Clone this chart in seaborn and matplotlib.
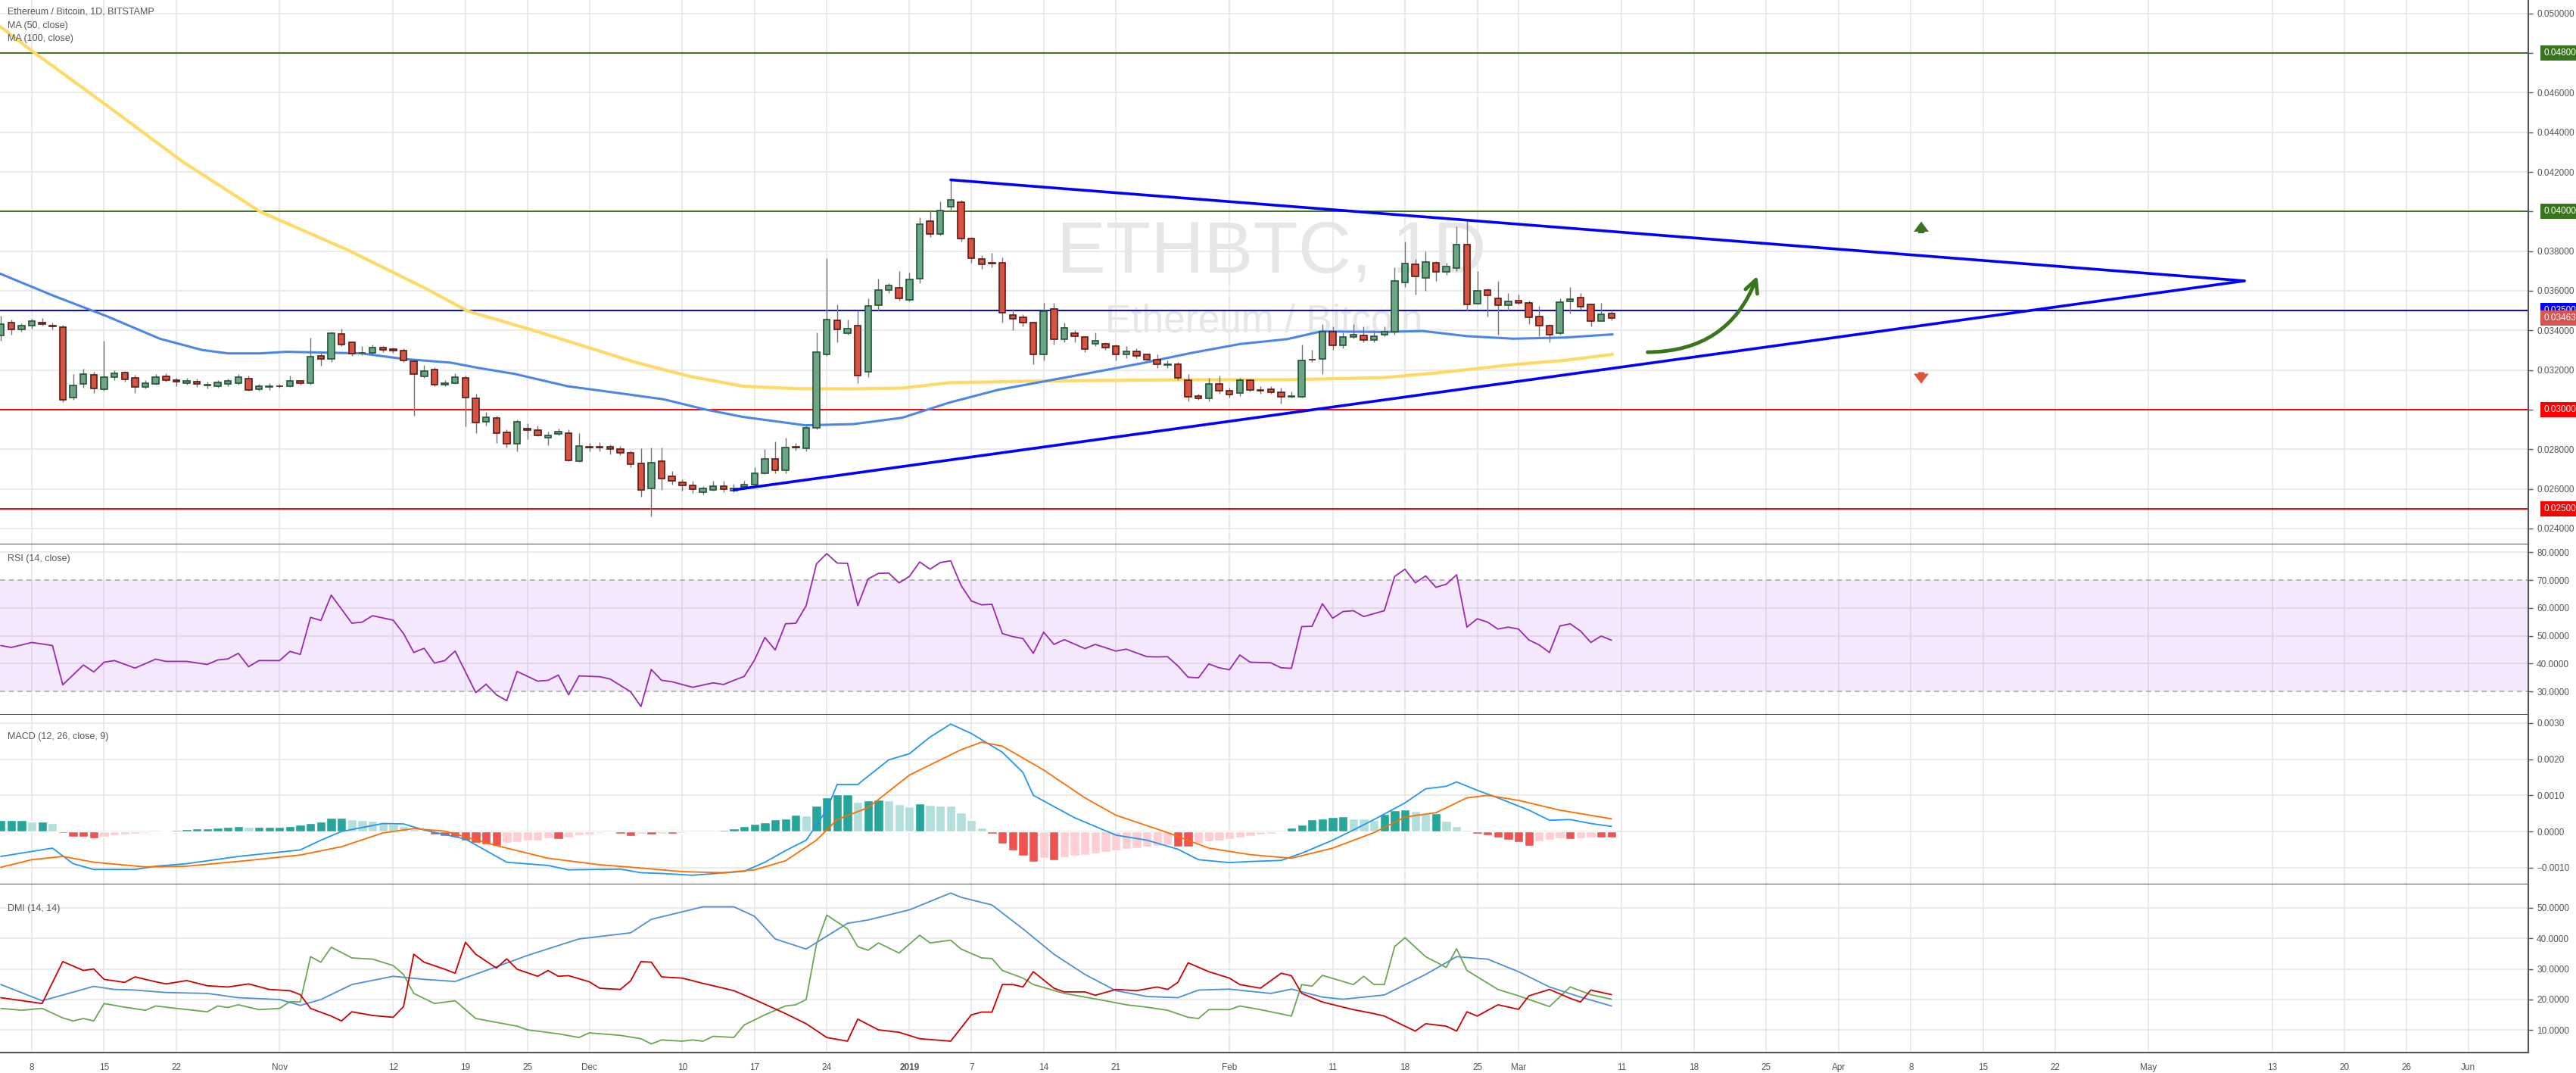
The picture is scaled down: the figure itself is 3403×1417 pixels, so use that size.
import numpy as np
import pandas as pd
import seaborn as sns
import matplotlib.pyplot as plt
from matplotlib.patches import FancyArrowPatch
from matplotlib.transforms import blended_transform_factory

# days counted from 2018-10-08 (day 0); candles run from day -3 to day 153
first_day = -3

opens = [
    0.03375, 0.03440, 0.03404, 0.03424, 0.03440, 0.03426, 0.03417, 0.03061, 0.03130, 0.03176,
    0.03103, 0.03164, 0.03187, 0.03161, 0.03115, 0.03130, 0.03168, 0.03149, 0.03134, 0.03143,
    0.03121, 0.03118, 0.03130, 0.03134, 0.03157, 0.03102, 0.03115, 0.03120, 0.03118, 0.03145,
    0.03135, 0.03273, 0.03255, 0.03382, 0.03339, 0.03285, 0.03287, 0.03313, 0.03304, 0.03298,
    0.03245, 0.03167, 0.03203, 0.03126, 0.03134, 0.03161, 0.03057, 0.02938, 0.02958, 0.02885,
    0.02828, 0.02904, 0.02897, 0.02857, 0.02876, 0.02883, 0.02740, 0.02814, 0.02814, 0.02814,
    0.02801, 0.02783, 0.02730, 0.02601, 0.02738, 0.02665, 0.02632, 0.02619, 0.02583, 0.02595,
    0.02615, 0.02591, 0.02610, 0.02620, 0.02680, 0.02753, 0.02693, 0.02811, 0.02805, 0.02908,
    0.03279, 0.03450, 0.03385, 0.03423, 0.03192, 0.03527, 0.03604, 0.03615, 0.03554, 0.03662,
    0.03950, 0.03886, 0.04023, 0.04046, 0.03862, 0.03762, 0.03742, 0.03740, 0.03477, 0.03465,
    0.03438, 0.03277, 0.03508, 0.03354, 0.03386, 0.03365, 0.03331, 0.03331, 0.03321, 0.03277,
    0.03296, 0.03277, 0.03254, 0.03226, 0.03231, 0.03147, 0.03067, 0.03058, 0.03128, 0.03096,
    0.03083, 0.03147, 0.03100, 0.03104, 0.03086, 0.03063, 0.03064, 0.03254, 0.03256, 0.03395,
    0.03323, 0.03365, 0.03373, 0.03350, 0.03378, 0.03392, 0.03641, 0.03733, 0.03665, 0.03740,
    0.03696, 0.03715, 0.03835, 0.03536, 0.03604, 0.03563, 0.03528, 0.03551, 0.03540, 0.03471,
    0.03425, 0.03385, 0.03548, 0.03565, 0.03531, 0.03448, 0.03485,
]
closes = [
    0.03432, 0.03404, 0.03424, 0.03447, 0.03433, 0.03422, 0.03050, 0.03122, 0.03180, 0.03106,
    0.03164, 0.03183, 0.03152, 0.03115, 0.03134, 0.03164, 0.03148, 0.03140, 0.03145, 0.03130,
    0.03127, 0.03138, 0.03145, 0.03164, 0.03099, 0.03118, 0.03118, 0.03117, 0.03145, 0.03135,
    0.03268, 0.03255, 0.03386, 0.03329, 0.03284, 0.03288, 0.03313, 0.03303, 0.03297, 0.03248,
    0.03178, 0.03196, 0.03125, 0.03135, 0.03166, 0.03061, 0.02935, 0.02962, 0.02882, 0.02828,
    0.02939, 0.02896, 0.02870, 0.02871, 0.02890, 0.02743, 0.02817, 0.02810, 0.02808, 0.02800,
    0.02782, 0.02724, 0.02595, 0.02734, 0.02651, 0.02639, 0.02617, 0.02597, 0.02604, 0.02615,
    0.02599, 0.02604, 0.02623, 0.02680, 0.02753, 0.02693, 0.02810, 0.02808, 0.02908, 0.03292,
    0.03455, 0.03404, 0.03408, 0.03173, 0.03523, 0.03604, 0.03628, 0.03562, 0.03658, 0.03938,
    0.03886, 0.04005, 0.04059, 0.03862, 0.03763, 0.03735, 0.03738, 0.03490, 0.03458, 0.03438,
    0.03279, 0.03496, 0.03354, 0.03412, 0.03369, 0.03305, 0.03347, 0.03315, 0.03277, 0.03296,
    0.03273, 0.03254, 0.03228, 0.03231, 0.03160, 0.03064, 0.03058, 0.03128, 0.03096, 0.03077,
    0.03147, 0.03100, 0.03096, 0.03088, 0.03064, 0.03067, 0.03250, 0.03251, 0.03395, 0.03323,
    0.03365, 0.03378, 0.03350, 0.03369, 0.03392, 0.03650, 0.03738, 0.03674, 0.03746, 0.03695,
    0.03723, 0.03835, 0.03531, 0.03601, 0.03578, 0.03528, 0.03547, 0.03540, 0.03467, 0.03425,
    0.03378, 0.03543, 0.03559, 0.03520, 0.03448, 0.03482, 0.03463,
]
highs = [
    0.03473, 0.03455, 0.03435, 0.03460, 0.03462, 0.03440, 0.03428, 0.03180, 0.03208, 0.03190,
    0.03349, 0.03200, 0.03195, 0.03175, 0.03150, 0.03180, 0.03182, 0.03160, 0.03160, 0.03155,
    0.03140, 0.03150, 0.03155, 0.03180, 0.03170, 0.03130, 0.03135, 0.03130, 0.03170, 0.03150,
    0.03364, 0.03290, 0.03395, 0.03408, 0.03345, 0.03320, 0.03330, 0.03320, 0.03315, 0.03310,
    0.03255, 0.03225, 0.03215, 0.03150, 0.03185, 0.03170, 0.03080, 0.02990, 0.02970, 0.02900,
    0.02950, 0.02930, 0.02920, 0.02890, 0.02905, 0.02900, 0.02880, 0.02830, 0.02835, 0.02825,
    0.02815, 0.02795, 0.02805, 0.02810, 0.02810, 0.02690, 0.02650, 0.02640, 0.02615, 0.02640,
    0.02640, 0.02625, 0.02640, 0.02710, 0.02800, 0.02840, 0.02860, 0.02830, 0.02920, 0.03390,
    0.03763, 0.03530, 0.03455, 0.03500, 0.03560, 0.03660, 0.03640, 0.03700, 0.03690, 0.03970,
    0.04010, 0.04050, 0.04160, 0.04060, 0.03870, 0.03780, 0.03790, 0.03770, 0.03510, 0.03480,
    0.03440, 0.03540, 0.03540, 0.03440, 0.03400, 0.03370, 0.03390, 0.03340, 0.03330, 0.03320,
    0.03310, 0.03280, 0.03280, 0.03250, 0.03240, 0.03180, 0.03080, 0.03160, 0.03170, 0.03110,
    0.03160, 0.03150, 0.03120, 0.03120, 0.03110, 0.03090, 0.03330, 0.03300, 0.03430, 0.03420,
    0.03390, 0.03430, 0.03420, 0.03400, 0.03420, 0.03720, 0.03850, 0.03760, 0.03800, 0.03750,
    0.03740, 0.03925, 0.03950, 0.03700, 0.03610, 0.03650, 0.03590, 0.03580, 0.03550, 0.03525,
    0.03430, 0.03560, 0.03620, 0.03590, 0.03530, 0.03540, 0.03500,
]
lows = [
    0.03349, 0.03380, 0.03395, 0.03410, 0.03425, 0.03405, 0.03037, 0.03050, 0.03110, 0.03085,
    0.03095, 0.03150, 0.03140, 0.03085, 0.03105, 0.03125, 0.03140, 0.03120, 0.03125, 0.03115,
    0.03105, 0.03110, 0.03120, 0.03125, 0.03095, 0.03095, 0.03100, 0.03110, 0.03115, 0.03125,
    0.03125, 0.03220, 0.03240, 0.03320, 0.03270, 0.03275, 0.03280, 0.03290, 0.03285, 0.03240,
    0.02968, 0.03160, 0.03118, 0.03120, 0.03130, 0.02916, 0.02880, 0.02920, 0.02830, 0.02810,
    0.02790, 0.02850, 0.02865, 0.02820, 0.02870, 0.02740, 0.02735, 0.02790, 0.02790, 0.02775,
    0.02770, 0.02710, 0.02560, 0.02460, 0.02595, 0.02620, 0.02590, 0.02580, 0.02570, 0.02590,
    0.02585, 0.02585, 0.02600, 0.02615, 0.02675, 0.02680, 0.02680, 0.02795, 0.02790, 0.02900,
    0.03270, 0.03340, 0.03380, 0.03135, 0.03165, 0.03500, 0.03590, 0.03550, 0.03545, 0.03640,
    0.03870, 0.03880, 0.04010, 0.03850, 0.03740, 0.03710, 0.03720, 0.03440, 0.03400, 0.03420,
    0.03230, 0.03250, 0.03330, 0.03340, 0.03340, 0.03290, 0.03320, 0.03300, 0.03250, 0.03260,
    0.03260, 0.03250, 0.03210, 0.03210, 0.03150, 0.03040, 0.03050, 0.03040, 0.03080, 0.03060,
    0.03070, 0.03090, 0.03080, 0.03080, 0.03030, 0.03060, 0.03060, 0.03240, 0.03180, 0.03300,
    0.03310, 0.03360, 0.03340, 0.03340, 0.03370, 0.03380, 0.03620, 0.03580, 0.03600, 0.03650,
    0.03680, 0.03700, 0.03500, 0.03530, 0.03470, 0.03380, 0.03500, 0.03530, 0.03430, 0.03370,
    0.03340, 0.03380, 0.03485, 0.03505, 0.03420, 0.03470, 0.03450,
]

ma50_day = [-3.1, 2.1, 7.2, 12.4, 16.5, 19.0, 22.1, 24.7, 31.9, 36.0, 40.6, 43.2, 46.8, 51.9,
            57.6, 61.2, 65.3, 68.9, 74.9, 79.6, 84.3, 88.9, 93.6, 98.3, 103.0, 107.6, 112.3,
            117.0, 121.6, 124.9, 131.0, 134.7, 139.0, 143.5, 148.5, 153.1]
ma50_val = [0.03687, 0.03575, 0.03473, 0.03358, 0.03301, 0.03284, 0.03284, 0.03292, 0.03284,
            0.03256, 0.03237, 0.03211, 0.03180, 0.03118, 0.03078, 0.03052, 0.03000, 0.02963,
            0.02921, 0.02927, 0.02959, 0.03036, 0.03100, 0.03145, 0.03190, 0.03235, 0.03286,
            0.03331, 0.03356, 0.03395, 0.03392, 0.03397, 0.03371, 0.03358, 0.03364, 0.03380]
ma100_day = [-3.1, 0.3, 7.0, 14.6, 22.1, 30.6, 38.1, 42.2, 48.4, 53.5, 58.6, 63.8, 68.9, 74.1,
             79.6, 84.3, 88.9, 98.3, 112.3, 121.6, 131.0, 136.0, 143.6, 148.5, 153.1]
ma100_val = [0.04935, 0.04800, 0.04546, 0.04252, 0.04000, 0.03806, 0.03613, 0.03498, 0.03403,
             0.03320, 0.03237, 0.03167, 0.03118, 0.03106, 0.03105, 0.03109, 0.03136, 0.03145,
             0.03151, 0.03151, 0.03162, 0.03185, 0.03228, 0.03249, 0.03279]

rsi_day = [-3, -2, 0, 2, 3, 5, 6, 7, 8, 10, 12, 13, 15, 17, 18, 19, 20, 21, 22, 24, 25, 26, 27, 28,
           29, 31, 32, 33, 35, 36, 37, 38, 39, 40, 41, 43, 44, 45, 46, 47, 49, 50, 51, 52, 53, 55,
           56, 57, 58, 59, 60, 61, 62, 64, 66, 67, 68, 69, 70, 71, 72, 73, 74, 75, 76, 77, 78, 79,
           80, 81, 82, 83, 84, 85, 86, 87, 88, 89, 90, 91, 92, 93, 94, 95, 96, 97, 98, 99, 100,
           101, 102, 103, 105, 106, 108, 109, 110, 111, 112, 113, 114, 115, 116, 117, 118, 120,
           121, 122, 123, 124, 125, 126, 127, 128, 129, 131, 132, 133, 134, 135, 136, 137, 138,
           139, 140, 141, 142, 143, 144, 145, 146, 147, 148, 149, 150, 151, 152, 153]
rsi_val = [46.5, 45.8, 47.6, 46.5, 32.4, 39.5, 37.0, 40.5, 41.1, 38.4, 41.6, 40.8, 40.8, 39.7,
           41.3, 41.7, 43.7, 38.9, 41.1, 41.1, 44.4, 43.3, 56.6, 55.5, 64.6, 54.5, 54.9, 57.2,
           55.6, 50.8, 44.0, 45.5, 40.2, 41.1, 44.5, 29.6, 32.6, 28.8, 26.7, 37.2, 33.7, 34.0,
           35.9, 28.8, 35.6, 35.3, 34.5, 32.2, 29.9, 24.6, 37.9, 34.0, 33.5, 31.5, 33.1, 32.5,
           34.0, 35.4, 41.3, 49.4, 44.9, 54.3, 54.5, 60.8, 75.8, 79.5, 76.1, 76.0, 60.8, 70.4,
           72.4, 72.5, 69.0, 71.3, 76.5, 73.9, 76.3, 76.9, 68.1, 62.5, 61.1, 61.3, 50.8, 49.7,
           49.0, 43.7, 51.3, 46.9, 48.6, 47.0, 45.4, 46.9, 44.5, 45.2, 42.5, 42.4, 42.5, 39.2,
           35.1, 34.9, 39.9, 38.5, 37.8, 43.1, 40.5, 40.3, 38.5, 38.3, 53.3, 53.4, 61.5, 56.3,
           58.7, 59.0, 56.9, 59.0, 71.3, 73.9, 69.0, 71.5, 67.4, 68.5, 71.9, 53.1, 56.1, 54.9,
           52.4, 53.1, 52.4, 48.5, 46.7, 44.0, 53.5, 54.3, 51.7, 47.6, 49.9, 48.4]

macd_day = [-3, 2, 4, 6, 10, 12, 15, 20, 23, 26, 28, 30, 34, 36, 38, 42, 44, 46, 50, 52, 57, 59,
            61, 64, 69, 71, 73, 75, 77, 78, 80, 83, 85, 87, 89, 91, 94, 96, 97, 99, 101, 105, 108,
            111, 113, 116, 118, 121, 123, 126, 128, 130, 133, 135, 137, 138, 140, 142, 145, 147,
            149, 151, 153]
macd_val = [-0.00069, -0.00046, -0.00089, -0.00105, -0.00105, -0.00096, -0.00089, -0.00069,
            -0.00060, -0.00051, -0.00024, 0.00000, 0.00022, 0.00021, 0.00004, -0.00021, -0.00053,
            -0.00085, -0.00094, -0.00106, -0.00104, -0.00114, -0.00116, -0.00121, -0.00110,
            -0.00085, -0.00053, -0.00024, 0.00060, 0.00130, 0.00130, 0.00198, 0.00215, 0.00261,
            0.00297, 0.00271, 0.00219, 0.00163, 0.00100, 0.00069, 0.00038, -0.00010, -0.00024,
            -0.00049, -0.00078, -0.00086, -0.00083, -0.00080, -0.00060, -0.00024, 0.00004,
            0.00033, 0.00079, 0.00118, 0.00125, 0.00137, 0.00114, 0.00093, 0.00059, 0.00031,
            0.00033, 0.00022, 0.00014]
signal_day = [-3, 0, 3, 6, 11, 15, 21, 26, 30, 34, 37, 40, 45, 50, 55, 59, 63, 67, 70, 73, 76,
              78, 81, 85, 90, 92, 94, 98, 102, 105, 110, 114, 118, 122, 126, 130, 133, 136, 139,
              141, 144, 148, 153]
signal_val = [-0.00099, -0.00078, -0.00069, -0.00085, -0.00098, -0.00096, -0.00080, -0.00065,
              -0.00042, -0.00004, 0.00008, 0.00001, -0.00039, -0.00074, -0.00092, -0.00101,
              -0.00111, -0.00114, -0.00106, -0.00081, -0.00024, 0.00033, 0.00066, 0.00156,
              0.00226, 0.00247, 0.00236, 0.00170, 0.00093, 0.00045, -0.00003, -0.00046, -0.00064,
              -0.00074, -0.00046, -0.00003, 0.00040, 0.00052, 0.00093, 0.00100, 0.00086, 0.00059,
              0.00035]
hist_val = [
    3.1, 3.1, 3.1, 2.7, 2.7, 2.4, -0.4, -1.5, -1.5, -1.9, -1.4, -1.0, -0.9, -0.7, -0.4, -0.1,
    0.2, 0.4, 0.6, 0.8, 0.9, 1.1, 1.3, 1.4, 1.2, 1.2, 1.2, 1.2, 1.5, 1.9, 2.4, 2.8, 3.8, 3.8,
    3.3, 3.1, 2.9, 2.6, 2.2, 1.5, 0.6, -0.3, -0.9, -1.2, -1.5, -2.6, -3.1, -3.5, -4.0, -3.1,
    -2.9, -2.6, -2.4, -1.9, -2.1, -1.6, -1.1, -0.8, -0.5, -0.3, -0.6, -1.2, -0.6, -0.8, -0.6,
    -0.6, -0.4, -0.3, -0.1, 0.1, 0.4, 0.8, 1.5, 2.2, 2.6, 3.3, 3.6, 4.7, 4.5, 7.1, 9.5, 10.3,
    10.3, 8.2, 8.6, 8.8, 8.5, 7.6, 6.9, 7.8, 7.4, 7.2, 7.1, 5.3, 3.1, 1.0, -0.6, -3.4, -5.3,
    -6.7, -8.4, -7.4, -8.0, -7.1, -6.7, -6.4, -6.0, -5.7, -5.3, -4.9, -4.6, -4.2, -3.9, -3.7,
    -4.1, -4.1, -3.1, -2.8, -2.4, -2.1, -1.6, -1.2, -0.9, -0.6, -0.3, 1.1, 1.9, 3.3, 3.6, 4.0,
    4.2, 3.6, 3.5, 3.1, 4.9, 5.9, 6.1, 5.6, 5.1, 5.1, 2.9, 1.5, 0.4, -0.7, -1.0, -1.6, -2.3,
    -3.0, -3.9, -2.8, -2.3, -1.9, -2.1, -1.9, -1.7, -1.7, -1.7,
]  # x 1e-4

adx_day = [-3, 1, 6, 8, 10, 13, 17, 20, 24, 26, 28, 31, 35, 38, 41, 45, 48, 53, 58, 60, 65, 68,
           70, 72, 75, 79, 81, 85, 89, 90, 93, 96, 99, 102, 105, 108, 111, 113, 116, 120, 122,
           125, 127, 131, 135, 138, 141, 144, 147, 150, 153]
adx_val = [24.9, 19.6, 24.3, 23.3, 23.1, 22.3, 22.0, 20.6, 20.0, 18.1, 20.0, 24.9, 27.6, 26.6,
           25.9, 30.7, 34.4, 39.8, 41.8, 46.2, 50.3, 50.3, 47.2, 39.8, 36.5, 44.9, 46.0, 49.3,
           54.8, 53.4, 50.9, 43.1, 34.8, 28.2, 22.9, 21.0, 20.6, 23.1, 23.4, 22.0, 23.4, 20.8,
           20.1, 21.5, 28.2, 34.0, 33.2, 29.1, 24.1, 20.8, 17.9]
pdi_day = [-3, -1, 1, 3, 4, 5, 6, 7, 9, 11, 12, 14, 17, 18, 19, 20, 22, 24, 25, 26, 27, 28, 29,
           31, 33, 35, 36, 37, 39, 41, 43, 47, 48, 51, 53, 54, 57, 59, 60, 61, 63, 64, 65, 66,
           68, 69, 71, 73, 74, 75, 76, 77, 79, 80, 81, 82, 84, 86, 87, 89, 90, 92, 93, 94, 96,
           97, 100, 104, 106, 108, 110, 112, 113, 114, 116, 117, 119, 122, 123, 124, 125, 128,
           129, 130, 131, 132, 133, 135, 137, 138, 139, 142, 144, 147, 149, 151, 153]
pdi_val = [17.1, 16.5, 17.1, 14.0, 13.0, 13.8, 13.0, 18.7, 17.5, 16.5, 17.9, 17.1, 16.0, 17.9,
           17.4, 18.3, 16.7, 17.1, 19.3, 19.2, 34.0, 32.2, 37.1, 33.6, 33.2, 31.1, 28.2, 22.0,
           18.7, 19.6, 13.8, 11.3, 10.1, 8.8, 7.6, 9.1, 8.3, 7.2, 5.5, 6.8, 6.4, 6.8, 6.4, 8.0,
           7.6, 11.7, 15.0, 17.9, 18.3, 20.0, 38.1, 47.6, 43.1, 37.3, 36.1, 38.5, 35.2, 41.0,
           38.5, 39.4, 36.5, 33.6, 33.4, 29.5, 27.0, 24.9, 22.0, 19.6, 18.3, 17.5, 16.5, 14.2,
           13.8, 16.7, 16.7, 17.9, 16.7, 14.6, 24.9, 24.4, 27.9, 24.9, 27.6, 24.9, 24.9, 37.3,
           40.2, 34.0, 30.5, 36.6, 29.5, 23.3, 21.2, 17.7, 24.1, 21.6, 20.1]
mdi_day = [-3, 1, 3, 5, 6, 7, 9, 10, 12, 13, 15, 17, 19, 21, 23, 25, 26, 27, 29, 30, 31, 33, 35,
           36, 37, 38, 40, 41, 42, 43, 45, 46, 47, 49, 50, 51, 52, 54, 55, 57, 58, 59, 60, 61,
           63, 65, 68, 70, 73, 75, 77, 79, 80, 82, 84, 86, 89, 91, 92, 93, 94, 95, 96, 97, 99,
           100, 102, 103, 105, 107, 109, 110, 111, 112, 114, 116, 117, 119, 121, 122, 123, 125,
           128, 130, 131, 133, 134, 135, 137, 138, 139, 140, 142, 144, 145, 147, 149, 150, 151,
           153]
mdi_val = [20.6, 18.7, 32.4, 29.5, 30.0, 26.6, 25.6, 27.4, 25.8, 25.1, 26.2, 24.5, 24.1, 25.1,
           23.3, 22.9, 21.6, 17.1, 14.6, 13.0, 16.0, 14.8, 14.2, 17.7, 34.8, 32.2, 29.9, 28.6,
           38.7, 34.8, 30.3, 33.3, 29.9, 27.6, 29.5, 27.6, 27.8, 25.8, 23.7, 23.3, 26.1, 32.4,
           32.2, 27.4, 27.0, 25.3, 22.9, 20.0, 15.4, 12.1, 7.6, 6.4, 13.6, 10.1, 9.3, 7.2, 6.4,
           15.0, 15.9, 15.9, 24.9, 24.9, 24.1, 29.1, 23.7, 22.5, 22.5, 21.4, 23.3, 22.9, 24.1,
           23.3, 25.6, 32.0, 29.1, 27.0, 24.9, 23.7, 28.6, 27.8, 22.0, 19.2, 16.7, 15.4, 14.6,
           11.3, 9.7, 12.1, 11.3, 9.7, 16.0, 14.6, 18.3, 16.8, 21.2, 23.3, 20.4, 19.2, 23.1, 21.6]

levels = [0.048, 0.040, 0.035, 0.030, 0.025]
level_colors = ['#38761d', '#38761d', '#0000ff', '#ff0000', '#ff0000']
last_price = 0.034630

tick_days = [0, 7, 14, 24, 35, 42, 48, 54, 63, 70, 77, 85, 91, 98, 105, 116, 126, 133, 140, 144,
             154, 161, 168, 175, 182, 189, 196, 205, 217, 224, 230, 236]
tick_labels = ['8', '15', '22', 'Nov', '12', '19', '25', 'Dec', '10', '17', '24', '2019', '7',
               '14', '21', 'Feb', '11', '18', '25', 'Mar', '11', '18', '25', 'Apr', '8', '15',
               '22', 'May', '13', '20', '26', 'Jun']

# triangle drawing (day, price)
upper_line = ([89, 214.3], [0.04160, 0.03650])
lower_line = ([68, 214.3], [0.02595, 0.03650])

sns.set_theme(style="white")
plt.rcParams['font.family'] = ['Liberation Sans', 'DejaVu Sans']

days = np.arange(first_day, first_day + len(opens))
df = pd.DataFrame({'day': days, 'open': opens, 'close': closes, 'high': highs, 'low': lows})
df['up'] = df['close'] >= df['open']

fig = plt.figure(figsize=(34.03, 14.17), dpi=100)
right = 3340 / 3403
ax = fig.add_axes([0, 0.4929, right, 0.5071])
ax_rsi = fig.add_axes([0, 0.3335, right, 0.1594], sharex=ax)
ax_macd = fig.add_axes([0, 0.1760, right, 0.1575], sharex=ax)
ax_dmi = fig.add_axes([0, 0.0192, right, 0.1568], sharex=ax)

grid_c = '#e6e6e6'
txt_c = '#555555'
xmin, xmax = -3.08, 241.8

for a in (ax, ax_rsi, ax_macd, ax_dmi):
    a.set_xlim(xmin, xmax)
    a.yaxis.tick_right()
    a.set_xticks(tick_days)
    for d in tick_days:
        a.axvline(d, color=grid_c, lw=1.2, zorder=0)
    for s in ('top', 'left'):
        a.spines[s].set_visible(False)
    a.spines['right'].set_color('#555555')
    a.spines['bottom'].set_color('#555555')
    a.spines['right'].set_linewidth(1.5)
    a.spines['bottom'].set_linewidth(1.5)
    a.tick_params(axis='y', labelsize=8.5, colors=txt_c, length=4, width=1, pad=4, direction='out')
    a.tick_params(axis='x', length=0, labelbottom=False)

# ---- price panel
ax.set_ylim(0.02321, 0.05068)
pticks = np.arange(0.024, 0.0501, 0.002)
ax.set_yticks(pticks)
# levels that carry a coloured price box show no plain tick label underneath
ax.set_yticklabels(['' if any(abs(v - lv) < 1e-9 for lv in levels) else f'{v:.6f}'
                    for v in pticks])
for v in pticks:
    ax.axhline(v, color=grid_c, lw=1.2, zorder=0)

ax.text(0.503, 0.534, 'ETHBTC, 1D', transform=ax.transAxes, ha='center', va='center',
        fontsize=70, color='#e6e6e6', zorder=1)
ax.text(0.50, 0.409, 'Ethereum / Bitcoin', transform=ax.transAxes, ha='center', va='center',
        fontsize=37, color='#e6e6e6', zorder=1)

sns.lineplot(x=ma100_day, y=ma100_val, ax=ax, color='#ffd966', lw=3, zorder=3)
sns.lineplot(x=ma50_day, y=ma50_val, ax=ax, color='#4a86e8', lw=2.2, zorder=3)

up = df[df['up']]
dn = df[~df['up']]
ax.vlines(df['day'], df['low'], df['high'], color='#737375', lw=1, zorder=4)
ax.bar(up['day'], up['close'] - up['open'], bottom=up['open'], width=0.62,
       color='#6ba583', edgecolor='#225437', lw=1.2, zorder=5)
ax.bar(dn['day'], dn['open'] - dn['close'], bottom=dn['close'], width=0.62,
       color='#d75442', edgecolor='#5b1a13', lw=1.2, zorder=5)

for lv, c in zip(levels, level_colors):
    ax.axhline(lv, color=c, lw=1.4, zorder=2)
ax.plot(*upper_line, color='#0000ff', lw=2.6, zorder=6)
ax.plot(*lower_line, color='#0000ff', lw=2.6, zorder=6)

ax.add_patch(FancyArrowPatch((156.3, 0.0329), (167.2, 0.03685), connectionstyle='arc3,rad=0.35',
                             arrowstyle='->,head_length=6,head_width=3', color='#38761d',
                             lw=3.5, mutation_scale=2, zorder=7))
ax.annotate('', xy=(183, 0.0396), xytext=(183, 0.0388),
            arrowprops=dict(arrowstyle='simple,head_width=1.2,head_length=0.8,tail_width=0.5',
                            color='#38761d', lw=0))
ax.annotate('', xy=(183, 0.0312), xytext=(183, 0.0320),
            arrowprops=dict(arrowstyle='simple,head_width=1.2,head_length=0.8,tail_width=0.5',
                            color='#e0533b', lw=0))

trans = blended_transform_factory(ax.transAxes, ax.transData)
for lv, c in list(zip(levels, level_colors)) + [(last_price, '#d9534f')]:
    ax.text(1.006, lv, f'{lv:.6f}', transform=trans, ha='left', va='center', fontsize=8.5,
            color='white', zorder=10, clip_on=False,
            bbox=dict(boxstyle='square,pad=0.35', fc=c, ec='none'))

ax.text(0.003, 0.978, 'Ethereum / Bitcoin, 1D, BITSTAMP', transform=ax.transAxes, fontsize=9,
        color=txt_c, va='center')
ax.text(0.003, 0.953, 'MA (50, close)', transform=ax.transAxes, fontsize=9, color=txt_c, va='center')
ax.text(0.003, 0.929, 'MA (100, close)', transform=ax.transAxes, fontsize=9, color=txt_c, va='center')

# ---- RSI
ax_rsi.set_ylim(21.5, 82.9)
ax_rsi.set_yticks([30, 40, 50, 60, 70, 80])
ax_rsi.set_yticklabels([f'{v:.4f}' for v in [30, 40, 50, 60, 70, 80]])
for v in [40, 50, 60, 80]:
    ax_rsi.axhline(v, color=grid_c, lw=1.2, zorder=0)
ax_rsi.axhspan(30, 70, color='#9c27f0', alpha=0.1, lw=0, zorder=1)
for v in (30, 70):
    ax_rsi.axhline(v, color='#aaaaaa', lw=1.2, ls=(0, (4, 3)), zorder=2)
sns.lineplot(x=rsi_day, y=rsi_val, ax=ax_rsi, color='#9c27b0', lw=1.3, zorder=3)
ax_rsi.text(0.003, 0.9, 'RSI (14, close)', transform=ax_rsi.transAxes, fontsize=9, color=txt_c)

# ---- MACD
ax_macd.set_ylim(-0.001456, 0.003216)
mt = [-0.001, 0.0, 0.001, 0.002, 0.003]
ax_macd.set_yticks(mt)
ax_macd.set_yticklabels(['\u22120.0010', '0.0000', '0.0010', '0.0020', '0.0030'])
for v in mt:
    ax_macd.axhline(v, color=grid_c, lw=1.2, zorder=0)
hist = np.array(hist_val) * 1e-4
hdays = np.arange(first_day, first_day + len(hist))
prev = np.concatenate([[hist[0]], hist[:-1]])
hcols = np.where(hist >= 0, np.where(hist >= prev, '#26a69a', '#b2dfdb'),
                 np.where(hist <= prev, '#ef5350', '#ffcdd2'))
ax_macd.bar(hdays, hist, width=0.9, color=hcols, zorder=2)
sns.lineplot(x=macd_day, y=macd_val, ax=ax_macd, color='#2196f3', lw=1.3, zorder=3)
sns.lineplot(x=signal_day, y=signal_val, ax=ax_macd, color='#ff6d00', lw=1.3, zorder=3)
ax_macd.text(0.003, 0.86, 'MACD (12, 26, close, 9)', transform=ax_macd.transAxes, fontsize=9,
             color=txt_c)

# ---- DMI
ax_dmi.set_ylim(2.73, 57.7)
dt = [10, 20, 30, 40, 50]
ax_dmi.set_yticks(dt)
ax_dmi.set_yticklabels([f'{v:.4f}' for v in dt])
for v in dt:
    ax_dmi.axhline(v, color=grid_c, lw=1.2, zorder=0)
sns.lineplot(x=adx_day, y=adx_val, ax=ax_dmi, color='#4a90d9', lw=1.3, zorder=3)
sns.lineplot(x=pdi_day, y=pdi_val, ax=ax_dmi, color='#6aa84f', lw=1.3, zorder=3)
sns.lineplot(x=mdi_day, y=mdi_val, ax=ax_dmi, color='#cc0000', lw=1.3, zorder=3)
ax_dmi.text(0.003, 0.84, 'DMI (14, 14)', transform=ax_dmi.transAxes, fontsize=9, color=txt_c)

ax_dmi.tick_params(axis='x', labelbottom=True, labelsize=8.5, labelcolor=txt_c, length=4,
                   color='#555555', pad=6, direction='out')
ax_dmi.set_xticklabels(tick_labels)
for lbl in ax_dmi.get_xticklabels():
    if lbl.get_text() == '2019':
        lbl.set_fontweight('bold')

for a in (ax, ax_rsi, ax_macd, ax_dmi):
    a.set_xlabel('')
    a.set_ylabel('')
    a.set_xlim(xmin, xmax)

fig.savefig('out.png', dpi=100)
